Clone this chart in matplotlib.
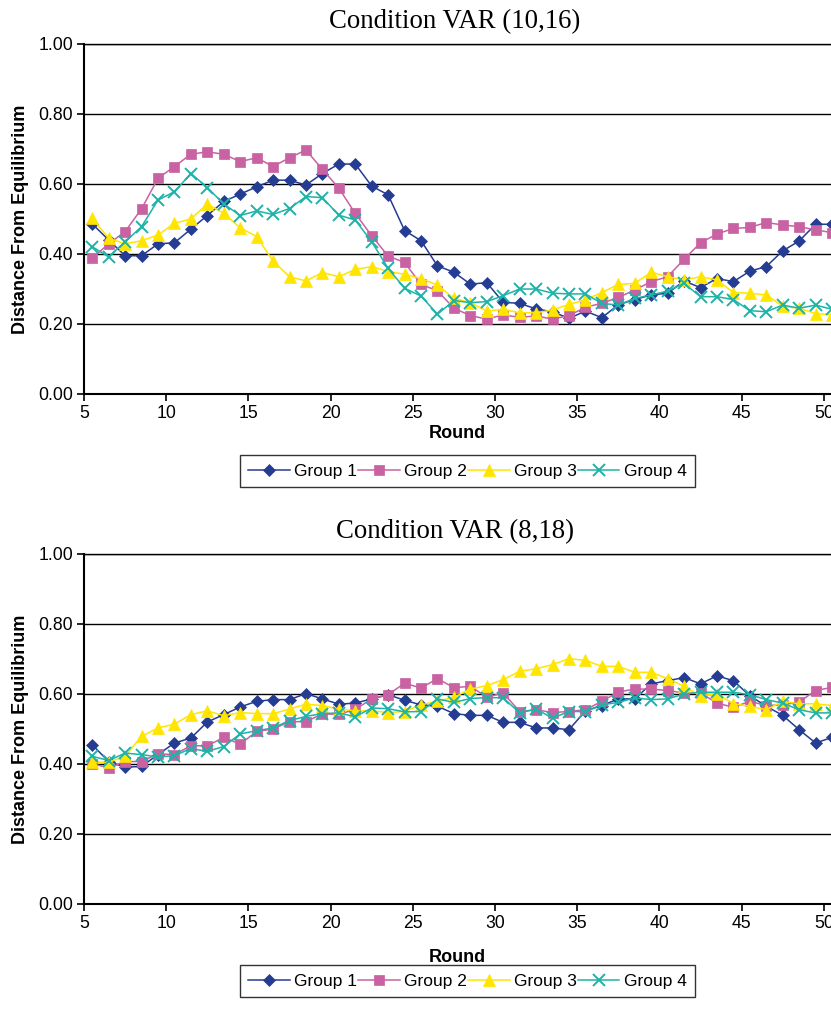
import numpy as np
from matplotlib import pyplot

# rounds 6..51, Excel draws each point in the middle of its category
rounds = np.arange(6, 52)
group_names = ['Group 1', 'Group 2', 'Group 3', 'Group 4']

# Condition VAR (10,16)
var1016_g1 = [0.486, 0.44, 0.395, 0.395, 0.429, 0.432, 0.471, 0.51, 0.55, 0.571, 0.592, 0.611, 0.611, 0.597, 0.63, 0.657, 0.657,
              0.594, 0.569, 0.467, 0.438, 0.366, 0.348, 0.314, 0.318, 0.262, 0.259, 0.243, 0.235, 0.216, 0.237, 0.218,
              0.255, 0.27, 0.283, 0.288, 0.323, 0.304, 0.33, 0.321, 0.351, 0.364, 0.409, 0.437, 0.485, 0.485]
var1016_g2 = [0.388, 0.429, 0.464, 0.529, 0.616, 0.65, 0.685, 0.692, 0.685, 0.664, 0.675, 0.65, 0.675, 0.697, 0.642, 0.588, 0.516,
              0.452, 0.394, 0.376, 0.313, 0.295, 0.245, 0.224, 0.214, 0.226, 0.219, 0.223, 0.214, 0.224, 0.248, 0.259,
              0.276, 0.297, 0.321, 0.335, 0.385, 0.432, 0.457, 0.473, 0.476, 0.49, 0.483, 0.478, 0.469, 0.461]
var1016_g3 = [0.502, 0.445, 0.429, 0.438, 0.454, 0.488, 0.5, 0.543, 0.516, 0.475, 0.45, 0.38, 0.335, 0.323, 0.347, 0.335, 0.356,
              0.364, 0.35, 0.342, 0.33, 0.311, 0.273, 0.261, 0.237, 0.242, 0.232, 0.232, 0.24, 0.256, 0.269, 0.29,
              0.313, 0.316, 0.348, 0.335, 0.326, 0.335, 0.326, 0.29, 0.288, 0.283, 0.251, 0.245, 0.23, 0.226]
var1016_g4 = [0.421, 0.392, 0.435, 0.478, 0.554, 0.578, 0.63, 0.59, 0.543, 0.51, 0.523, 0.513, 0.53, 0.564, 0.561, 0.511, 0.497,
              0.435, 0.359, 0.302, 0.28, 0.228, 0.267, 0.261, 0.264, 0.281, 0.3, 0.3, 0.288, 0.286, 0.286, 0.259,
              0.254, 0.273, 0.283, 0.294, 0.316, 0.278, 0.278, 0.27, 0.238, 0.235, 0.254, 0.245, 0.254, 0.242]

# Condition VAR (8,18)
var818_g1 = [0.455, 0.407, 0.391, 0.393, 0.427, 0.46, 0.474, 0.52, 0.541, 0.563, 0.579, 0.584, 0.584, 0.601, 0.586, 0.571, 0.574,
             0.586, 0.598, 0.582, 0.569, 0.565, 0.544, 0.539, 0.539, 0.519, 0.519, 0.503, 0.503, 0.498, 0.552, 0.567,
             0.586, 0.586, 0.629, 0.638, 0.647, 0.629, 0.652, 0.638, 0.595, 0.565, 0.539, 0.498, 0.46, 0.476]
var818_g2 = [0.401, 0.389, 0.407, 0.407, 0.429, 0.427, 0.452, 0.452, 0.476, 0.457, 0.493, 0.5, 0.521, 0.521, 0.543, 0.542, 0.556,
             0.586, 0.598, 0.631, 0.617, 0.644, 0.618, 0.622, 0.591, 0.603, 0.55, 0.555, 0.547, 0.55, 0.555, 0.579,
             0.606, 0.614, 0.614, 0.61, 0.603, 0.603, 0.574, 0.562, 0.579, 0.567, 0.569, 0.577, 0.61, 0.619]
var818_g3 = [0.405, 0.405, 0.422, 0.479, 0.503, 0.514, 0.541, 0.552, 0.538, 0.547, 0.544, 0.544, 0.557, 0.571, 0.567, 0.557, 0.552,
             0.552, 0.547, 0.55, 0.569, 0.579, 0.591, 0.614, 0.624, 0.641, 0.665, 0.672, 0.684, 0.701, 0.696, 0.679,
             0.679, 0.662, 0.662, 0.644, 0.622, 0.595, 0.601, 0.572, 0.565, 0.555, 0.579, 0.572, 0.572, 0.567]
var818_g4 = [0.422, 0.41, 0.431, 0.427, 0.42, 0.424, 0.444, 0.436, 0.45, 0.486, 0.495, 0.503, 0.524, 0.536, 0.544, 0.546, 0.535,
             0.56, 0.558, 0.549, 0.55, 0.586, 0.576, 0.587, 0.59, 0.589, 0.546, 0.557, 0.531, 0.55, 0.55, 0.569,
             0.576, 0.589, 0.584, 0.586, 0.6, 0.605, 0.605, 0.605, 0.598, 0.584, 0.574, 0.555, 0.546, 0.546]

x_ticks = [5, 10, 15, 20, 25, 30, 35, 40, 45, 50]
y_ticks = [0.0, 0.2, 0.4, 0.6, 0.8, 1.0]

colours = ['#253C93', '#C862A2', '#FFE500', '#1DB3A8']
markers = ['D', 's', '^', 'x']
msizes = [6.3, 7, 8.5, 8]

W, H = 831, 1011
sans = ['Liberation Sans', 'DejaVu Sans']
serif = ['Liberation Serif', 'DejaVu Serif']
pyplot.rcParams['font.family'] = sans


def panel(fig, top_px, title, series, round_gap, legend_y):
    # axes run past the right edge of the picture, as in the original
    ax = fig.add_axes([84 / W, 1 - (top_px + 350) / H, 46 * 16.44 / W, 350 / H])
    handles = []
    for vals, c, m, ms in zip(series, colours, markers, msizes):
        line, = ax.plot(rounds - 0.5, vals, color=c, marker=m, markersize=ms, linewidth=1.1,
                        markeredgewidth=1.4 if m == 'x' else 0.5, markeredgecolor=c)
        handles.append(line)
    ax.set_xlim(5, 51)
    ax.set_ylim(0, 1)
    ax.set_xticks(x_ticks)
    ax.set_yticks(y_ticks)
    ax.set_yticklabels(['%.2f' % v for v in y_ticks])
    ax.tick_params(axis='both', direction='out', length=5, width=1.2, labelsize=12.7, pad=3)
    ax.grid(axis='y', color='black', linewidth=1.0)
    ax.set_axisbelow(True)
    for side in ['left', 'bottom']:
        ax.spines[side].set_linewidth(1.5)
    ax.spines['top'].set_linewidth(1.0)
    ax.spines['right'].set_visible(False)

    fig.text(455 / W, 1 - (top_px - 22) / H, title, family=serif, fontsize=19.3, ha='center', va='center')
    fig.text(21 / W, 1 - (top_px + 175) / H, 'Distance From Equilibrium', rotation=90, fontsize=13,
             fontweight='bold', ha='center', va='center')
    fig.text(457 / W, 1 - (top_px + 350 + round_gap) / H, 'Round', fontsize=13, fontweight='bold',
             ha='center', va='center')
    leg = fig.legend(handles, group_names, loc='center', bbox_to_anchor=(467.5 / W, 1 - legend_y / H), ncol=4,
                     fontsize=12.5, frameon=True, fancybox=False, edgecolor='black', handlelength=2.4,
                     handletextpad=0.25, columnspacing=0.05, borderpad=0.5, borderaxespad=0)
    leg.get_frame().set_linewidth(1.0)
    return ax


fig = pyplot.figure(figsize=(W / 100, H / 100), dpi=100)
panel(fig, 44, 'Condition VAR (10,16)', [var1016_g1, var1016_g2, var1016_g3, var1016_g4], 40, 471)
panel(fig, 554, 'Condition VAR (8,18)', [var818_g1, var818_g2, var818_g3, var818_g4], 54, 981)

pyplot.savefig('out.png', dpi=100)
